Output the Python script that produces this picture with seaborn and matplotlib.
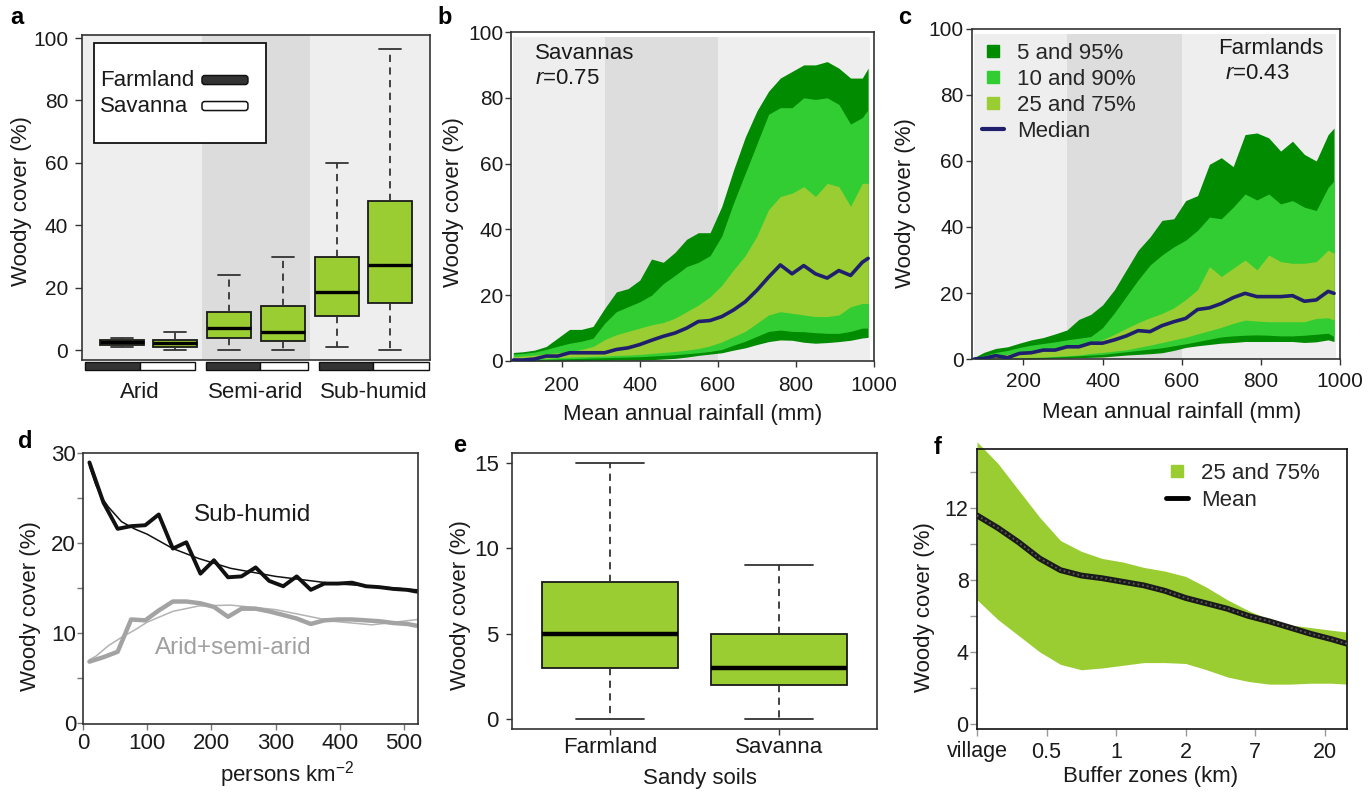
import numpy as np
import pandas as pd
import matplotlib
matplotlib.use('Agg')
import matplotlib.pyplot as plt
import seaborn as sns
from matplotlib.patches import Patch, Rectangle, FancyBboxPatch
from matplotlib.lines import Line2D

sns.set_style('ticks')
plt.rcParams['font.family'] = ['Liberation Sans', 'DejaVu Sans']
plt.rcParams['mathtext.fontset'] = 'custom'
plt.rcParams['mathtext.it'] = 'Liberation Sans:italic'
plt.rcParams['mathtext.rm'] = 'Liberation Sans'

# ---------------- data ----------------
# Panel a: woody cover by climate zone (Farmland / Savanna)
a_pos = [1, 2, 3, 4, 5, 6]
a_whislo = [1.0, 0.0, 0.0, 0.0, 1.0, 0.0]
a_q1 = [1.6, 0.9, 4.0, 3.0, 11.0, 15.0]
a_med = [2.5, 2.1, 7.2, 5.9, 18.7, 27.1]
a_q3 = [3.2, 3.2, 12.1, 14.1, 29.7, 47.9]
a_whishi = [4.0, 5.9, 24.0, 29.9, 60.0, 96.5]
a_zones = ['Arid', 'Semi-arid', 'Sub-humid']
a_legend = ['Farmland', 'Savanna']

# Panels b and c: percentile bands vs rainfall
rain = [76, 100, 130, 160, 190, 220, 250, 280, 310, 340, 370, 400, 430, 460, 490, 520,
        550, 580, 610, 640, 670, 700, 730, 760, 790, 820, 850, 880, 910, 940, 970, 985]
b_p95 = [2.6, 2.8, 3.3, 4.4, 7.0, 9.6, 9.6, 10.5, 16, 21, 22, 24.6, 31, 30, 33, 37,
         39, 39, 47, 58, 68, 76, 82, 86, 88, 90, 90, 91, 89, 86, 86, 89]
b_p90 = [2.1, 2.3, 2.7, 3.5, 4.5, 5.4, 6.0, 6.9, 11.5, 15, 16.5, 18, 20, 23.5, 26, 28.7,
         30, 32, 38, 48, 57, 66, 75, 77, 77, 80, 79.5, 80, 78, 72, 74, 76.4]
b_p75 = [1.3, 1.5, 1.8, 2.2, 2.5, 2.8, 3.5, 4.4, 6.5, 8, 9, 10, 11, 11.7, 13, 15,
         17, 19.5, 23, 27.7, 32, 38, 46, 50, 51, 53, 50, 54, 53, 47, 54, 54]
b_med = [0.3, 0.3, 0.6, 1.5, 1.5, 2.5, 2.5, 2.5, 2.5, 3.5, 4.0, 5.0, 6.3, 7.5, 8.5, 10,
         12, 12.3, 13.5, 15.5, 18, 21.5, 25.5, 29.2, 26.5, 29, 26.5, 25.2, 27.5, 26, 30, 31.2]
b_p25 = [0.4, 0.5, 0.6, 0.8, 1.0, 1.2, 1.3, 1.4, 1.5, 1.7, 1.8, 2.0, 2.3, 2.6, 2.9, 3.3,
         3.8, 4.6, 5.8, 7.4, 9, 11.5, 14, 15, 14.5, 14, 13.5, 13.5, 14, 16.5, 17.5, 17.5]
b_p10 = [0.2, 0.3, 0.4, 0.5, 0.6, 0.7, 0.8, 0.9, 1.0, 1.1, 1.2, 1.3, 1.5, 1.7, 1.9, 2.2,
         2.5, 2.9, 3.5, 4.8, 6, 7.5, 9, 9.4, 9, 8.9, 8.6, 8.4, 8.4, 9, 10, 10]
b_p5 = [0, 0, 0, 0, 0, 0.1, 0.1, 0.2, 0.2, 0.3, 0.3, 0.3, 0.4, 0.6, 0.8, 1.2,
        1.7, 2.1, 2.5, 3.3, 4, 5, 5.9, 6.4, 6.3, 5.7, 5.4, 5.6, 5.9, 6.3, 7, 7.2]

c_p95 = [0.5, 2.0, 3.2, 3.7, 4.8, 5.8, 6.5, 7.6, 8.8, 12, 13.5, 16.4, 21, 27, 33, 37,
         42, 42.5, 48, 49.5, 59, 61, 58.3, 68, 68.5, 67, 63, 66, 62, 60, 68, 70]
c_p90 = [0.2, 1.0, 2.0, 2.6, 3.5, 4.2, 4.7, 5.2, 5.8, 6.3, 6.8, 9.5, 14, 19, 24, 28.5,
         31.5, 34, 36, 39, 43, 42.5, 46, 50, 48.2, 50, 47, 48, 46, 45, 52, 54]
c_p75 = [0, 0.5, 1.0, 1.4, 2.0, 2.4, 2.8, 3.2, 3.6, 4.2, 4.8, 5.8, 7.5, 9.3, 11, 12.5,
         13.8, 15.5, 18, 21, 28, 25, 27.5, 30, 27, 31.5, 29.5, 29, 29, 29.5, 33, 32]
c_med = [0, 0.2, 1.0, 0.4, 1.7, 1.9, 2.7, 2.7, 3.7, 3.7, 4.8, 4.8, 5.8, 7.0, 8.6, 8.3,
         10.1, 11.3, 12.3, 15, 15.5, 16.8, 18.6, 19.9, 18.9, 18.9, 18.9, 19.2, 17.5, 17.9, 20.5, 19.9]
c_p25 = [0, 0.1, 0.2, 0.3, 0.4, 0.5, 0.6, 0.8, 1.0, 1.2, 1.7, 2.0, 2.4, 2.8, 3.5, 4.2,
         5.0, 5.8, 6.6, 7.6, 8.6, 9.6, 10.8, 11.8, 11.5, 11.3, 11.3, 11.3, 11.3, 12.3, 12.5, 11.8]
c_p10 = [0, 0, 0.1, 0.2, 0.3, 0.4, 0.5, 0.6, 0.8, 1.0, 1.2, 1.4, 1.8, 2.2, 2.6, 3.0,
         3.4, 4.0, 4.6, 5.3, 6.0, 6.7, 7.0, 7.2, 7.3, 7.2, 7.0, 7.0, 7.2, 7.5, 7.8, 6.8]
c_p5 = [0, 0, 0, 0, 0, 0, 0.1, 0.2, 0.3, 0.4, 0.5, 0.6, 0.9, 1.2, 1.4, 1.6,
        1.9, 2.6, 3.5, 4.0, 4.4, 4.8, 5.0, 5.3, 5.3, 5.3, 5.3, 5.3, 5.0, 5.2, 5.8, 5.3]
band_labels = ['5 and 95%', '10 and 90%', '25 and 75%', 'Median']

# Panel d: woody cover vs population density
d_density = [10, 32, 54, 75, 97, 118, 140, 161, 183, 204, 226, 247, 269, 290, 312, 333,
             355, 376, 398, 419, 441, 462, 484, 505, 520]
d_subhumid = [29, 24.5, 21.6, 21.9, 22.0, 23.2, 19.4, 20.1, 16.6, 18.1, 16.2, 16.3, 17.3,
              15.8, 15.2, 16.3, 14.8, 15.5, 15.5, 15.6, 15.2, 15.1, 14.9, 14.8, 14.6]
d_arid = [6.8, 7.3, 7.9, 11.5, 11.4, 12.5, 13.5, 13.5, 13.3, 12.9, 11.8, 12.7, 12.7,
          12.4, 12.0, 11.6, 11.0, 11.4, 11.5, 11.5, 11.4, 11.3, 11.1, 11.0, 10.8]
d_fit_x = [10, 20, 30, 40, 60, 80, 100, 140, 180, 230, 300, 390, 450, 522]
d_fit_sub = [28.6, 26.5, 25.0, 24.0, 22.4, 21.6, 21.0, 19.4, 18.3, 17.2, 16.3, 15.5, 15.2, 14.8]
d_fit_arid = [7.0, 7.4, 8.0, 8.6, 9.5, 10.3, 11.2, 12.4, 13.0, 13.1, 12.6, 11.3, 10.9, 11.5]

# Panel e: sandy soils
e_groups = ['Farmland', 'Savanna']
e_whislo = [0.0, 0.0]
e_q1 = [3.0, 2.0]
e_med = [5.0, 3.0]
e_q3 = [8.0, 5.0]
e_whishi = [15.0, 9.0]

# Panel f: buffer zones
f_ticklabels = ['village', '0.5', '1', '2', '7', '20']
f_pos = [0, 0.3, 0.6, 0.9, 1.2, 1.5, 1.8, 2.1, 2.4, 2.7, 3.0, 3.3, 3.6, 3.9, 4.2, 4.5, 4.8, 5.1, 5.32]
f_mean = [11.6, 10.9, 10.1, 9.2, 8.55, 8.25, 8.1, 7.9, 7.7, 7.4, 7.0, 6.7, 6.4, 6.0, 5.7, 5.35, 5.0, 4.7, 4.45]
f_upper = [15.7, 14.5, 13.0, 11.5, 10.2, 9.6, 9.2, 9.0, 8.7, 8.5, 8.2, 7.6, 6.9, 6.3, 5.8, 5.5, 5.35, 5.2, 5.1]
f_lower = [6.9, 5.8, 4.9, 4.0, 3.3, 3.0, 3.1, 3.25, 3.4, 3.4, 3.35, 3.0, 2.6, 2.35, 2.2, 2.2, 2.25, 2.25, 2.2]

# ---------------- style ----------------
DARK = '#008B00'
LIME = '#32CD32'
YG = '#9ACD32'
NAVY = '#1f1f6e'
EDGE = '#333333'
TXT = '#1a1a1a'

fig = plt.figure(figsize=(13.68, 7.94), dpi=100)


def px_axes(l, t, r, b):
    return fig.add_axes([l / 1368, 1 - b / 794, (r - l) / 1368, (b - t) / 794])


def style(ax, size, ypad, xpad, length=5, tcolor=EDGE):
    for s in ax.spines.values():
        s.set_color(EDGE)
        s.set_linewidth(1.2)
        s.set_visible(True)
    ax.tick_params(axis='both', which='both', colors=tcolor, labelcolor=TXT, width=1.0,
                   length=length, labelsize=size, direction='out')
    ax.tick_params(axis='y', which='both', pad=ypad)
    ax.tick_params(axis='x', which='both', pad=xpad)


def ylab(ax, text, x, y):
    ax.set_ylabel(text, fontsize=16, color=TXT, va='center')
    ax.yaxis.set_label_coords(x, y)


def xlab(ax, text, x, y):
    ax.set_xlabel(text, fontsize=16, color=TXT, va='center')
    ax.xaxis.set_label_coords(x, y)


box_kw = dict(patch_artist=True, showfliers=False, manage_ticks=False,
              boxprops=dict(facecolor=YG, edgecolor='#1a1a1a', linewidth=1.3),
              whiskerprops=dict(color='#333333', linestyle=(0, (4, 3)), linewidth=1.3),
              capprops=dict(color='#333333', linewidth=1.3))

axa = px_axes(82, 35, 430, 360)
axb = px_axes(511, 32, 874, 361)
axc = px_axes(972, 29, 1340, 359)
axd = px_axes(83, 453, 418, 724)
axe = px_axes(512, 453, 877, 729)
axf = px_axes(977, 449, 1347, 729)

# ---------------- panel a ----------------
axa.set_facecolor('#eeeeee')
axa.axvspan(2.5, 4.5, color='#dcdcdc', lw=0, zorder=0)
stats_a = [dict(whislo=a_whislo[i], q1=a_q1[i], med=a_med[i], q3=a_q3[i],
                whishi=a_whishi[i], fliers=[]) for i in range(len(a_pos))]
axa.bxp(stats_a, positions=a_pos, widths=0.82, capwidths=0.41,
        medianprops=dict(color='black', linewidth=2.4), **box_kw)
axa.set_xlim(0.26, 6.74)
axa.set_ylim(-3.2, 101)
axa.set_xticks([])
axa.set_yticks([0, 20, 40, 60, 80, 100])
style(axa, 15, 5, 4, length=5)
ylab(axa, 'Woody cover (%)', -0.173, 0.49)
strip_edges = [(0.31, 1.34, 2.36), (2.57, 3.57, 4.47), (4.67, 5.68, 6.73)]
zone_x = [1.34, 3.5, 5.7]
tr = axa.get_xaxis_transform()
for (x0, xm, x1), zx, zn in zip(strip_edges, zone_x, a_zones):
    axa.add_patch(Rectangle((x0, -0.031), xm - x0, 0.025, transform=tr, facecolor='#333333',
                            edgecolor='#111111', lw=1, clip_on=False))
    axa.add_patch(Rectangle((xm, -0.031), x1 - xm, 0.025, transform=tr, facecolor='white',
                            edgecolor='#111111', lw=1, clip_on=False))
    axa.text(zx, -0.1015, zn, transform=tr, ha='center', va='center', fontsize=16, color=TXT)
# legend box (R style: labels left, swatches right)
axa.add_patch(Rectangle((0.0345, 0.668), 0.4945, 0.307, transform=axa.transAxes,
                        facecolor='white', edgecolor='#111111', lw=1.3, zorder=4))
for lab, yy, fc in zip(a_legend, [0.8615, 0.7815], ['#333333', 'white']):
    axa.text(0.0517, yy, lab, transform=axa.transAxes, fontsize=16, color=TXT,
             ha='left', va='center', zorder=5)
    axa.add_patch(FancyBboxPatch((0.3448, yy - 0.0139), 0.132, 0.0277,
                                 boxstyle='round,pad=0,rounding_size=0.008',
                                 mutation_aspect=348 / 325, transform=axa.transAxes,
                                 facecolor=fc, edgecolor='#111111', lw=1.1, zorder=5))

# ---------------- panels b, c ----------------
def band_panel(ax, p5, p10, p25, med, p75, p90, p95):
    ax.axvspan(76, 990, ymax=0.985, color='#eeeeee', lw=0, zorder=0)
    ax.axvspan(310, 600, ymax=0.985, color='#dddddd', lw=0, zorder=0)
    ax.fill_between(rain, p5, p95, color=DARK, lw=0, zorder=1)
    ax.fill_between(rain, p10, p90, color=LIME, lw=0, zorder=1)
    ax.fill_between(rain, p25, p75, color=YG, lw=0, zorder=1)
    sns.lineplot(x=rain, y=med, ax=ax, color=NAVY, lw=2.6, zorder=3)
    ax.set_xlim(70, 1000)
    ax.set_ylim(0, 100)
    ax.set_xticks([200, 400, 600, 800, 1000])
    ax.set_yticks([0, 20, 40, 60, 80, 100])


band_panel(axb, b_p5, b_p10, b_p25, b_med, b_p75, b_p90, b_p95)
style(axb, 15, 1, 6, length=4.5)
ylab(axb, 'Woody cover (%)', -0.159, 0.484)
xlab(axb, 'Mean annual rainfall (mm)', 0.5, -0.162)
axb.text(0.066, 0.936, 'Savannas', transform=axb.transAxes, fontsize=16, color=TXT, va='center')
axb.text(0.066, 0.860, '$r$=0.75', transform=axb.transAxes, fontsize=16, color=TXT, va='center')

band_panel(axc, c_p5, c_p10, c_p25, c_med, c_p75, c_p90, c_p95)
style(axc, 15, 1.5, 5, length=4.5)
ylab(axc, 'Woody cover (%)', -0.182, 0.472)
xlab(axc, 'Mean annual rainfall (mm)', 0.543, -0.163)
axc.text(0.668, 0.942, 'Farmlands', transform=axc.transAxes, fontsize=16, color=TXT, va='center')
axc.text(0.6875, 0.864, '$r$=0.43', transform=axc.transAxes, fontsize=16, color=TXT, va='center')
hc = [Line2D([], [], marker='s', ls='none', color=c, markersize=8.5) for c in (DARK, LIME, YG)]
hc.append(Line2D([], [], color=NAVY, lw=3))
axc.legend(hc, band_labels, loc='upper left', bbox_to_anchor=(0.026, 0.958), frameon=False,
           borderpad=0, borderaxespad=0, handlelength=1.0, handletextpad=0.6,
           labelspacing=0.22, fontsize=16)

# ---------------- panel d ----------------
sns.lineplot(x=d_fit_x, y=d_fit_arid, ax=axd, color='#b3b3b3', lw=1.1)
sns.lineplot(x=d_density, y=d_arid, ax=axd, color='#a3a3a3', lw=3.2)
sns.lineplot(x=d_fit_x, y=d_fit_sub, ax=axd, color='#111111', lw=1.1)
sns.lineplot(x=d_density, y=d_subhumid, ax=axd, color='#111111', lw=2.8)
axd.set_xlim(0, 522)
axd.set_ylim(-0.15, 30.05)
axd.set_xticks([0, 100, 200, 300, 400, 500])
axd.set_yticks([0, 10, 20, 30])
axd.set_yticks([5, 15, 25], minor=True)
style(axd, 16, 1, 2.5, length=4, tcolor='#777777')
ylab(axd, 'Woody cover (%)', -0.158, 0.437)
xlab(axd, 'persons km$^{-2}$', 0.609, -0.188)
axd.text(0.507, 0.771, 'Sub-humid', transform=axd.transAxes, fontsize=17.5, color=TXT,
         ha='center', va='center')
axd.text(0.448, 0.280, 'Arid+semi-arid', transform=axd.transAxes, fontsize=17.5,
         color='#a0a0a0', ha='center', va='center')

# ---------------- panel e ----------------
stats_e = [dict(whislo=e_whislo[i], q1=e_q1[i], med=e_med[i], q3=e_q3[i],
                whishi=e_whishi[i], fliers=[], label=e_groups[i]) for i in range(2)]
axe.bxp(stats_e, positions=[1, 2], widths=0.8, capwidths=0.4,
        medianprops=dict(color='black', linewidth=3.2), **box_kw)
axe.set_xlim(0.42, 2.58)
axe.set_ylim(-0.6, 15.6)
axe.set_xticks([1, 2])
axe.set_xticklabels(e_groups)
axe.set_yticks([0, 5, 10, 15])
style(axe, 16, 5, 1.5, length=4.5)
ylab(axe, 'Woody cover (%)', -0.142, 0.449)
xlab(axe, 'Sandy soils', 0.515, -0.178)

# ---------------- panel f ----------------
axf.fill_between(f_pos, f_lower, f_upper, color=YG, lw=0, clip_on=False, zorder=1)
sns.lineplot(x=f_pos, y=f_mean, ax=axf, color='#1a1a1a', lw=4.2, zorder=3)
axf.plot(f_pos, f_mean, color='#5a5a5a', lw=1.3, ls=(0, (1, 1.6)), zorder=4)
axf.set_xlim(0, 5.32)
axf.set_ylim(-0.3, 15.3)
axf.set_xticks(range(len(f_ticklabels)))
axf.set_xticklabels(f_ticklabels)
axf.set_yticks([0, 4, 8, 12])
axf.set_yticks([2, 6, 10, 14], minor=True)
style(axf, 15.5, 1, 4, length=5, tcolor='#999999')
for s in axf.spines.values():
    s.set_color('#111111')
ylab(axf, 'Woody cover (%)', -0.141, 0.437)
xlab(axf, 'Buffer zones (km)', 0.468, -0.170)
hf = [Line2D([], [], marker='s', ls='none', color=YG, markersize=8.5),
      Line2D([], [], color='black', lw=3.5)]
axf.legend(hf, ['25 and 75%', 'Mean'], loc='upper left', bbox_to_anchor=(0.51, 0.95),
           frameon=False, borderpad=0, borderaxespad=0, handlelength=1.0,
           handletextpad=0.6, labelspacing=0.25, fontsize=16)

# ---------------- panel letters ----------------
for letter, (x, y) in zip('abcdef', [(17, 18), (445, 18), (905, 17), (25, 442), (460, 445), (938, 447)]):
    fig.text(x / 1368, 1 - y / 794, letter, fontsize=17, fontweight='bold', ha='center',
             va='center', color='black')

fig.savefig('out.png', dpi=100)
